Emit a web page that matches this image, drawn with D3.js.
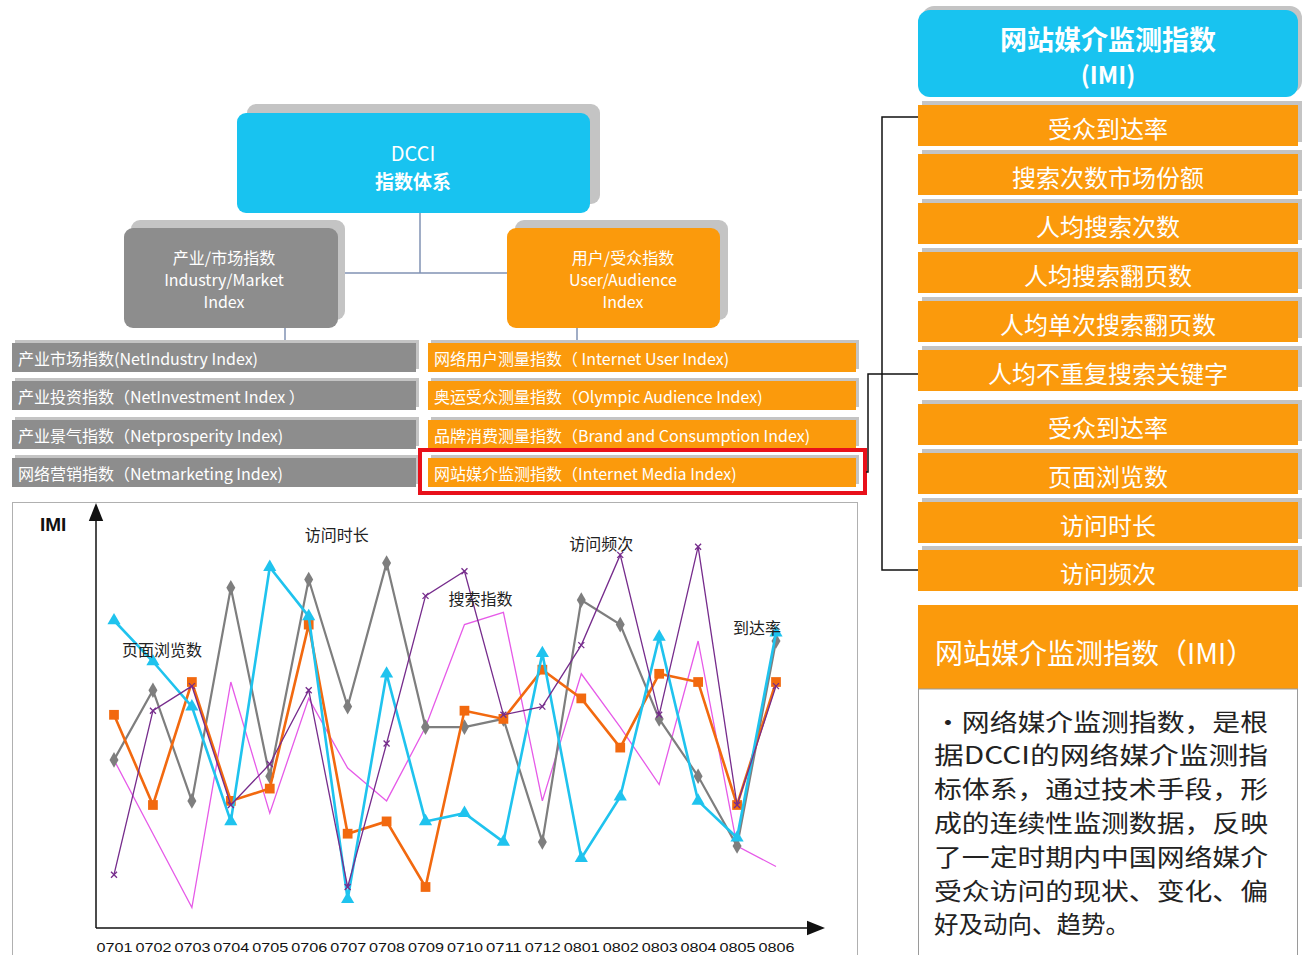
<!DOCTYPE html>
<html>
<head>
<meta charset="utf-8">
<script src="https://cdn.jsdelivr.net/npm/d3@7"></script>
<style>
  body { margin: 0; background: #fff; }
  svg { display: block; font-family: "Noto Sans CJK SC", "Noto Sans", sans-serif; }
</style>
</head>
<body>
<svg id="imi" width="1306" height="955"></svg>
<script>
/*** DATA ***/
var months = ['0701','0702','0703','0704','0705','0706','0707','0708','0709',
              '0710','0711','0712','0801','0802','0803','0804','0805','0806'];

var duration_vals  = [41, 58, 31, 83, 37, 85, 54, 89, 49, 49, 51, 21, 80, 74, 51, 37, 20, 70];  // gray
var pageview_vals  = [75, 65, 54, 26, 88, 76,  7, 62, 26, 28, 21, 67, 17, 32, 71, 31, 22, 72];  // cyan
var reach_vals     = [52, 30, 60, 31, 34, 74, 23, 26, 10, 53, 51, 63, 56, 44, 62, 60, 30, 60];  // orange
var frequency_vals = [13, 53, 59, 30, 40, 58, 10, 45, 81, 87, 52, 54, 69, 91, 52, 93, 30, 59];  // purple
var search_vals    = [41, 23,  5, 60, 28, 56, 39, 31, 49, 74, 77, 31, 62, 49, 35, 70, 20, 15];  // magenta

var chart_labels = [
    {text: '页面浏览数', x: '0701', v: 68, dx: 8},
    {text: '访问时长',   x: '0706', v: 96, dx: -4},
    {text: '搜索指数',   x: '0710', v: 80.5, dx: -16},
    {text: '访问频次',   x: '0802', v: 94, dx: -51},
    {text: '到达率',     x: '0805', v: 73.5, dx: -4}
];

var left_items  = ['产业市场指数(NetIndustry Index)', '产业投资指数（NetInvestment Index ）',
                   '产业景气指数（Netprosperity Index)', '网络营销指数（Netmarketing Index)'];
var right_items = ['网络用户测量指数（ Internet User Index)', '奥运受众测量指数（Olympic Audience Index)',
                   '品牌消费测量指数（Brand and Consumption Index)', '网站媒介监测指数（Internet Media Index)'];

var imi_items = ['受众到达率', '搜索次数市场份额', '人均搜索次数', '人均搜索翻页数', '人均单次搜索翻页数',
                 '人均不重复搜索关键字', '受众到达率', '页面浏览数', '访问时长', '访问频次'];

var desc_lines = ['•网络媒介监测指数，是根', '据DCCI的网络媒介监测指', '标体系，通过技术手段，形',
                  '成的连续性监测数据，反映', '了一定时期内中国网络媒介', '受众访问的现状、变化、偏',
                  '好及动向、趋势。'];

/*** COLOURS ***/
var cyan = '#18c3f0', orange = '#fb9a0c', gray = '#8d8d8d', shadow = '#c4c4c4';

var svg = d3.select('#imi');

/*** HELPERS ***/
function box(x, y, w, h, fill, r, sh) {
    if (sh) {
        svg.append('rect').attr('x', x + sh[0]).attr('y', y + sh[1]).attr('width', w).attr('height', h)
            .attr('rx', r).attr('fill', shadow);
    }
    svg.append('rect').attr('x', x).attr('y', y).attr('width', w).attr('height', h)
        .attr('rx', r).attr('fill', fill);
}

function label(x, y, txt, size, opts) {
    opts = opts || {};
    var t = svg.append('text')
        .attr('x', x).attr('y', y)
        .attr('text-anchor', opts.anchor || 'middle')
        .attr('dominant-baseline', 'central')
        .attr('font-size', size)
        .attr('font-weight', opts.weight || 'normal')
        .attr('fill', opts.fill || '#fff')
        .text(txt);
    if (opts.len) t.attr('textLength', opts.len).attr('lengthAdjust', 'spacingAndGlyphs');
    return t;
}

/*** ORG DIAGRAM ***/
var link = '#8192b4';
svg.append('path').attr('fill', 'none').attr('stroke', link).attr('stroke-width', 1.5)
    .attr('d', 'M420,213V273M338,273H507M285,328V342M577,328V342');

box(237, 113, 353, 100, cyan, 9, [10, -9]);
label(413, 152, 'DCCI', 20);
label(413, 180, '指数体系', 19, {weight: 'bold'});

box(124, 228, 214, 100, gray, 9, [7, -8]);
label(224, 257, '产业/市场指数', 16);
label(224, 279, 'Industry/Market', 16);
label(224, 301, 'Index', 16);

box(507, 228, 213, 100, orange, 9, [8, -8]);
label(623, 257, '用户/受众指数', 16);
label(623, 279, 'User/Audience', 16);
label(623, 301, 'Index', 16);

var row_y = [343, 381, 420, 458];
left_items.forEach(function(d, i) {
    box(12, row_y[i], 404, 29, gray, 0, [3, -3]);
    label(18, row_y[i] + 15, d, 16, {anchor: 'start'});
});
right_items.forEach(function(d, i) {
    box(428, row_y[i], 428, 29, orange, 0, [3, -3]);
    label(434, row_y[i] + 15, d, 16, {anchor: 'start'});
});
svg.append('rect').attr('x', 420).attr('y', 450).attr('width', 445).attr('height', 43)
    .attr('fill', 'none').attr('stroke', '#e8101a').attr('stroke-width', 4);

/*** RIGHT PANEL ***/
svg.append('path').attr('fill', 'none').attr('stroke', '#111').attr('stroke-width', 1.5)
    .attr('d', 'M918,117H882V570H918M866,472H868V374H918');

box(918, 10, 380, 87, cyan, 12, [4, -4]);
label(1108, 38, '网站媒介监测指数', 27, {weight: 'bold'});
label(1108, 73, '(IMI)', 24, {weight: 'bold'});

var imi_y = [105, 154, 203, 252, 301, 350, 404, 453, 502, 550];
imi_items.forEach(function(d, i) {
    box(918, imi_y[i], 380, 41, orange, 0, [4, -4]);
    label(1108, imi_y[i] + 22, d, 24);
});

box(918, 605, 380, 84, orange, 0, null);
label(935, 652, '网站媒介监测指数（IMI）', 28, {anchor: 'start'});
svg.append('rect').attr('x', 918.5).attr('y', 689).attr('width', 379).attr('height', 280)
    .attr('fill', '#fff').attr('stroke', '#9a9a9a');
desc_lines.forEach(function(d, i) {
    label(934, 720 + i * 33.8, d, 24, {anchor: 'start', fill: '#222',
        len: i === desc_lines.length - 1 ? 196 : 334});
});

/*** LINE CHART ***/
svg.append('rect').attr('x', 12.5).attr('y', 502.5).attr('width', 845).attr('height', 470)
    .attr('fill', '#fff').attr('stroke', '#b0b0b0');

var x = d3.scalePoint().domain(months).range([114, 776]);
var y = d3.scaleLinear().domain([0, 100]).range([928, 518]);

svg.append('defs').append('marker')
    .attr('id', 'arrow').attr('viewBox', '0 0 10 10').attr('refX', 5).attr('refY', 5)
    .attr('markerWidth', 12).attr('markerHeight', 12).attr('orient', 'auto')
    .append('path').attr('d', 'M0,1L10,5L0,9Z').attr('fill', '#111');

svg.append('line').attr('x1', 96).attr('y1', 928).attr('x2', 96).attr('y2', 512)
    .attr('stroke', '#111').attr('stroke-width', 1.5).attr('marker-end', 'url(#arrow)');
svg.append('line').attr('x1', 96).attr('y1', 928).attr('x2', 816).attr('y2', 928)
    .attr('stroke', '#111').attr('stroke-width', 1.5).attr('marker-end', 'url(#arrow)');

svg.append('g')
    .attr('transform', 'translate(0,943)')
    .call(d3.axisBottom(x).tickSize(0).tickPadding(0))
    .call(function(g) { g.select('.domain').remove(); })
    .selectAll('text')
    .attr('font-family', '"Liberation Sans", Arial, sans-serif')
    .attr('font-size', 13).attr('fill', '#111')
    .attr('textLength', 36).attr('lengthAdjust', 'spacingAndGlyphs');

svg.append('text').attr('x', 40).attr('y', 531).attr('font-size', 19).attr('font-weight', 'bold')
    .attr('font-family', '"Liberation Sans", Arial, sans-serif').attr('fill', '#111').text('IMI');

var series = [
    {vals: search_vals,    color: '#e65ae8', width: 1.3, symbol: null},
    {vals: duration_vals,  color: '#7e7e7e', width: 2.2, symbol: d3.symbolDiamond, size: 70},
    {vals: reach_vals,     color: '#f2690f', width: 2.6, symbol: d3.symbolSquare,  size: 95},
    {vals: pageview_vals,  color: '#1fc3ee', width: 2.6, symbol: d3.symbolTriangle, size: 75},
    {vals: frequency_vals, color: '#762c8c', width: 1.3, symbol: d3.symbolTimes,   size: 25, stroke: true}
];

var line = d3.line()
    .x(function(d, i) { return x(months[i]); })
    .y(function(d) { return y(d); });

series.forEach(function(s) {
    svg.append('path').attr('d', line(s.vals)).attr('fill', 'none')
        .attr('stroke', s.color).attr('stroke-width', s.width).attr('stroke-linejoin', 'miter');
    if (!s.symbol) return;
    svg.append('g').selectAll('path').data(s.vals).join('path')
        .attr('transform', function(d, i) { return 'translate(' + x(months[i]) + ',' + y(d) + ')'; })
        .attr('d', d3.symbol(s.symbol, s.size))
        .attr('fill', s.stroke ? 'none' : s.color)
        .attr('stroke', s.stroke ? s.color : 'none')
        .attr('stroke-width', 1.3);
});

chart_labels.forEach(function(d) {
    svg.append('text').attr('x', x(d.x) + d.dx).attr('y', y(d.v))
        .attr('font-size', 16).attr('fill', '#222').attr('dominant-baseline', 'central')
        .text(d.text);
});
</script>
</body>
</html>
